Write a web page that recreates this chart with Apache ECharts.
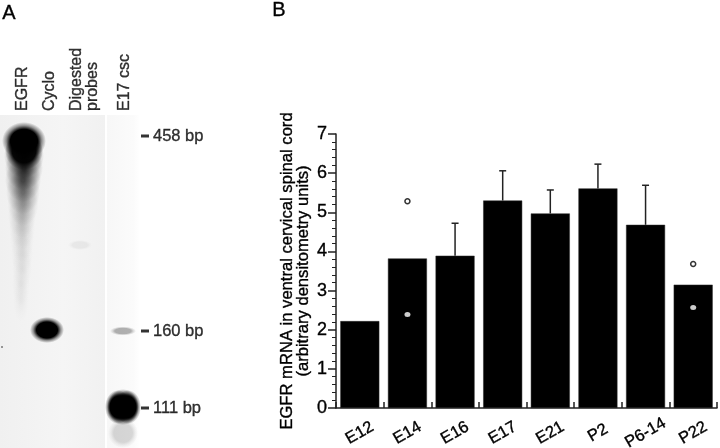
<!DOCTYPE html>
<html><head><meta charset="utf-8">
<style>html,body{margin:0;padding:0;background:#fff}#c{width:720px;height:448px}</style>
<script src="https://cdn.jsdelivr.net/npm/echarts@6/dist/echarts.min.js"></script>
</head><body><div id="c"></div>
<script>
// Panel B values
const stages = ['E12','E14','E16','E17','E21','P2','P6-14','P22'];
const means = [2.22,3.82,3.89,5.30,4.97,5.61,4.68,3.15];
const errTops = [null,null,4.72,6.06,5.57,6.23,5.69,null];
const openDots = [['E14',5.28],['P22',3.68]];
const whiteDots = [['E14',2.39],['P22',2.57]];
const yTicks = [0,1,2,3,4,5,6,7];
// Panel A: gel, read in lane position / migration units
const laneNames = ['EGFR','Cyclo','Digested\nprobes','E17 csc'];
const laneX = [23,50,85,125];
const sizeLabels = ['458 bp','160 bp','111 bp'];
const sizeY = [136,331,408];
const smearX = [24,24,23,23,23,22,22,22,22,22,21,21];
const smearY = [156,168,180,192,204,216,228,240,254,268,284,300];
const smearW = [40,38,36,34,31,28,26,24,22,20,18,16];
const smearH = [44,44,44,44,44,44,44,44,44,44,44,44];
const smearD = [.8,.7,.55,.38,.25,.16,.11,.08,.07,.06,.05,.04];
const bandX = [24,24,47,123,118,128,123,123,80,2];
const bandY = [141,151,330,331,407,407,407,433,245,347];
const bandW = [44,38,34,26,26,26,32,30,24,2];
const bandH = [38,38,26,9,34,34,36,30,10,2];
const bandD = [1,.95,1,.3,1,1,1,.15,.05,.7];

const chart = echarts.init(document.getElementById('c'));
const FONT = '"Liberation Sans",Arial,sans-serif';
const INK = '#000';
const THICK = {textBorderColor:'#000',textBorderWidth:0.35};
const blob = (xs,ys,ws,hs,ds,core,name) => ({
  type:'custom', name, xAxisIndex:1, yAxisIndex:1, silent:true, clip:false, z:1,
  data: xs.map((x,i)=>[x,ys[i],ws[i],hs[i],ds[i]]),
  renderItem(p,api){
    const c = api.coord([api.value(0),api.value(1)]);
    const s = api.size([api.value(2),api.value(3)]);
    const d = api.value(4);
    return {type:'circle',x:c[0],y:c[1],scaleX:s[0]/2/10,scaleY:s[1]/2/10,shape:{cx:0,cy:0,r:10},
      style:{fill:{type:'radial',x:.5,y:.5,r:.5,colorStops:[
        {offset:0,color:`rgba(0,0,0,${d})`},
        {offset:core,color:`rgba(0,0,0,${d})`},
        {offset:core+(1-core)*.5,color:`rgba(0,0,0,${d*.4})`},
        {offset:1,color:'rgba(0,0,0,0)'}]}}};
  }
});
chart.setOption({
  animation:false,
  backgroundColor:'#fff',
  textStyle:{fontFamily:FONT,color:INK},
  graphic:[
    {type:'rect',z:-1,shape:{x:0,y:115,width:105,height:333},
      style:{fill:{type:'linear',x:0,y:0,x2:1,y2:0,colorStops:[{offset:0,color:'#f0f0f0'},{offset:.6,color:'#f5f5f5'},{offset:1,color:'#f1f1f1'}]}}},
    {type:'rect',z:-1,shape:{x:107,y:115,width:33,height:333},
      style:{fill:{type:'linear',x:0,y:0,x2:1,y2:0,colorStops:[{offset:0,color:'#f7f7f7'},{offset:.8,color:'#fbfbfb'},{offset:1,color:'#ffffff'}]}}},
    {type:'text',left:2,top:3,style:{text:'A',font:'20px '+FONT,fill:INK,stroke:'#000',lineWidth:.35}},
    {type:'text',left:272,top:0,style:{text:'B',font:'20px '+FONT,fill:INK,stroke:'#000',lineWidth:.35}},
  ],
  grid:[
    {left:336,top:134,width:381,height:274,containLabel:false,outerBoundsMode:'none'},
    {left:0,top:115,width:139,height:333,show:false,outerBoundsMode:'none'}
  ],
  xAxis:[
    {type:'category',data:stages,gridIndex:0,boundaryGap:true,
      axisLine:{lineStyle:{color:'#222',width:1.5}},
      axisTick:{show:true,inside:true,length:6,lineStyle:{color:'#222',width:1.5},alignWithLabel:false},
      axisLabel:{rotate:30,fontSize:16.5,color:INK,margin:25,interval:0,align:'center',verticalAlign:'middle',fontFamily:FONT,...THICK},
      splitLine:{show:false}},
    {type:'value',gridIndex:1,min:0,max:139,show:false,splitLine:{show:false}}
  ],
  yAxis:[
    {type:'value',gridIndex:0,min:0,max:7,interval:1,
      name:'EGFR mRNA in ventral cervical spinal cord\n(arbitrary densitometry units)',
      nameLocation:'middle',nameGap:25,nameRotate:90,nameMoveOverlap:false,
      nameTextStyle:{fontSize:16.6,lineHeight:16,color:INK,fontFamily:FONT,align:'center',...THICK},
      axisLine:{show:true,lineStyle:{color:'#222',width:1.5}},
      axisTick:{show:true,length:8,lineStyle:{color:'#222',width:1.5}},
      minorTick:{show:true,splitNumber:5,length:4,lineStyle:{color:'#222',width:1}},
      axisLabel:{fontSize:18,color:INK,margin:9,fontFamily:FONT,customValues:yTicks,...THICK},
      splitLine:{show:false},minorSplitLine:{show:false}},
    {type:'value',gridIndex:1,min:115,max:448,inverse:true,show:false,splitLine:{show:false}}
  ],
  series:[
    blob(smearX,smearY,smearW,smearH,smearD,.1,'smear'),
    blob(bandX,bandY,bandW,bandH,bandD,.62,'bands'),
    {type:'scatter',name:'laneLabels',xAxisIndex:1,yAxisIndex:1,silent:true,z:5,
      symbolSize:0,data:laneX.map((x,i)=>({value:[x,111],name:laneNames[i]})),clip:false,
      label:{show:true,position:'inside',rotate:90,align:'left',verticalAlign:'middle',formatter:p=>p.name,
        fontSize:16,lineHeight:16,color:INK,fontFamily:FONT,...THICK}},
    {type:'scatter',name:'sizeMarkers',xAxisIndex:1,yAxisIndex:1,silent:true,z:5,clip:false,
      symbol:'rect',symbolSize:[8,3],itemStyle:{color:'#000'},symbolOffset:[5,0],
      data:sizeY.map((y,i)=>({value:[140,y],name:sizeLabels[i]})),
      label:{show:true,position:'right',distance:4,formatter:p=>p.name,fontSize:16.5,color:INK,fontFamily:FONT,...THICK}},
    {type:'bar',name:'EGFR',data:means,barWidth:39,z:2,itemStyle:{color:'#000',borderColor:'#2a2a2a',borderWidth:0.5}},
    {type:'custom',name:'sem',z:1,silent:true,
      data:stages.map((s,i)=>[i,means[i],errTops[i]]).filter(d=>d[2]!==null),
      renderItem(p,api){
        const a=api.coord([api.value(0),api.value(1)]),b=api.coord([api.value(0),api.value(2)]);
        const st={stroke:'#222',lineWidth:1.5};
        return {type:'group',children:[
          {type:'line',shape:{x1:a[0],y1:a[1],x2:b[0],y2:b[1]},style:st},
          {type:'line',shape:{x1:b[0]-3.5,y1:b[1],x2:b[0]+3.5,y2:b[1]},style:st}]};
      }},
    {type:'scatter',name:'open',data:openDots,symbol:'circle',symbolSize:5,z:4,
      itemStyle:{color:'#fff',borderColor:'#000',borderWidth:1.5}},
    {type:'scatter',name:'white',data:whiteDots,symbol:'circle',symbolSize:[6,5],z:4,
      itemStyle:{color:'#fff'}}
  ]
});
</script></body></html>
